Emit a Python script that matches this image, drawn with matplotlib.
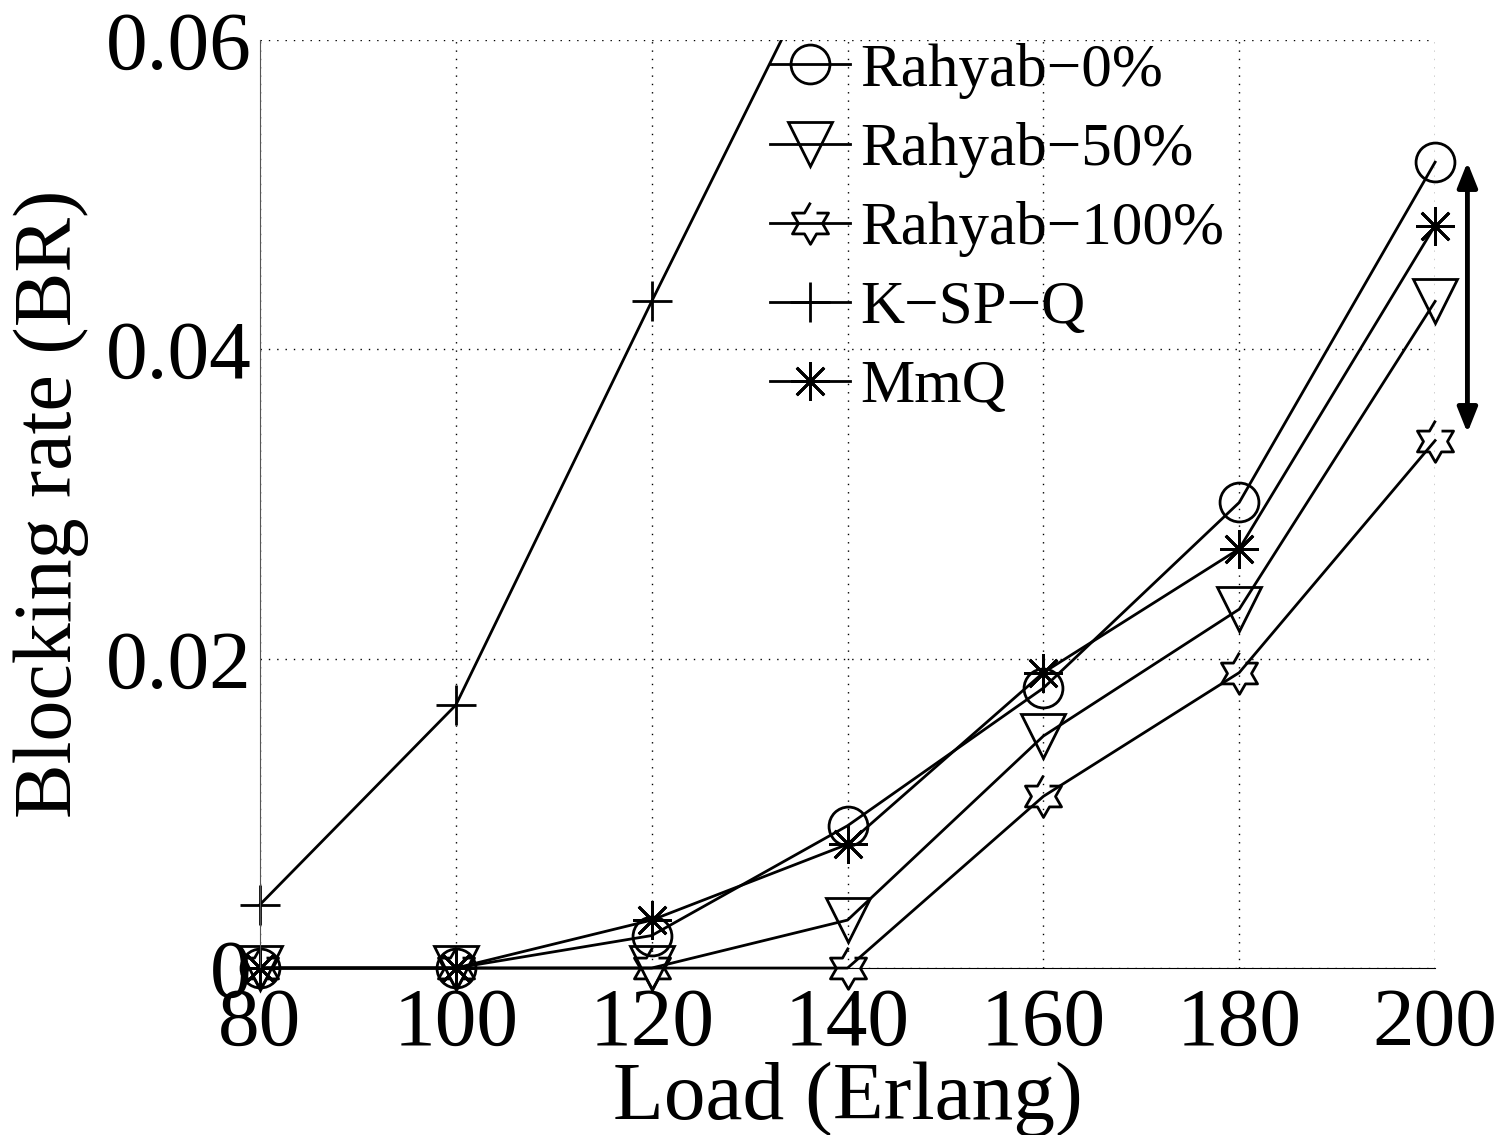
import matplotlib
matplotlib.use('Agg')
import matplotlib.pyplot as plt
from matplotlib.path import Path
from matplotlib.transforms import Bbox, TransformedBbox
import numpy as np

plt.rcParams['font.family'] = ['Liberation Serif', 'DejaVu Serif']

# data
load = [80, 100, 120, 140, 160, 180, 200]
rahyab_0 = [0, 0, 0.0021, 0.0092, 0.0181, 0.0301, 0.0521]
rahyab_50 = [0, 0, 0, 0.0031, 0.0150, 0.0232, 0.0431]
rahyab_100 = [0, 0, 0, 0, 0.0111, 0.0191, 0.0341]
ksp_q = [0.0041, 0.0170, 0.0431, 0.0686, 0.090, 0.110, 0.130]
mmq = [0, 0, 0.0031, 0.0080, 0.0191, 0.0271, 0.0480]
labels = ['Rahyab\u22120%', 'Rahyab\u221250%', 'Rahyab\u2212100%', 'K\u2212SP\u2212Q', 'MmQ']

# six pointed star (hexagram) marker
ang = np.deg2rad(np.arange(12) * 30 + 90)
rad = np.where(np.arange(12) % 2 == 0, 1.0, 0.577)
hexagram = Path(np.column_stack([rad * np.cos(ang), rad * np.sin(ang)]))

fig = plt.figure(figsize=(15.01, 11.35), dpi=100)
ax = fig.add_axes([0.1732, 0.1471, 0.9561 - 0.1732, 0.9648 - 0.1471])

# clip only at the top so edge markers stay whole
clip = TransformedBbox(Bbox([[-0.06, -0.08], [1.06, 1.0]]), ax.transAxes)

common = dict(color='black', lw=2.0, mfc='none', mec='black', mew=2.0)
series = [
    (rahyab_0, 'o', 28),
    (rahyab_50, 'v', 32),
    (rahyab_100, hexagram, 30),
    (ksp_q, '+', 29),
    (mmq, (8, 2, 0), 28),
]
for (y, m, ms), lab in zip(series, labels):
    ln, = ax.plot(load, y, marker=m, ms=ms, label=lab, **common)
    ln.set_clip_box(clip)

ax.set_xlim(80, 200)
ax.set_ylim(0, 0.06)
ax.set_xticks(load)
ax.set_yticks([0, 0.02, 0.04, 0.06])
ax.set_yticklabels(['0', '0.02', '0.04', '0.06'])
ax.tick_params(labelsize=60, direction='in', length=0)
ax.tick_params(axis='x', pad=14)
ax.tick_params(axis='y', pad=6)
ax.grid(True, linestyle=(0, (1, 5)), color='black', lw=1.0)
ax.set_axisbelow(True)
for s in ['top', 'right']:
    ax.spines[s].set_visible(False)
ax.spines['left'].set_color('#555555')

ax.set_xlabel('Load (Erlang)', fontsize=60, labelpad=-1)
ax.set_ylabel('Blocking rate (BR)', fontsize=59, labelpad=12)

leg = ax.legend(loc='upper left', bbox_to_anchor=(0.434, 0.997), frameon=False,
                fontsize=44, handlelength=1.31, handletextpad=0.17,
                labelspacing=0.38, borderpad=0, borderaxespad=0)

# double arrow beside the 200 Erlang points
ax.annotate('', xy=(203.3, 0.0521), xytext=(203.3, 0.0346),
            xycoords='data', annotation_clip=False,
            arrowprops=dict(arrowstyle='<|-|>,head_length=1.5,head_width=0.6',
                            color='black', lw=3.5, shrinkA=0, shrinkB=0))

fig.savefig('out.png', dpi=100)
